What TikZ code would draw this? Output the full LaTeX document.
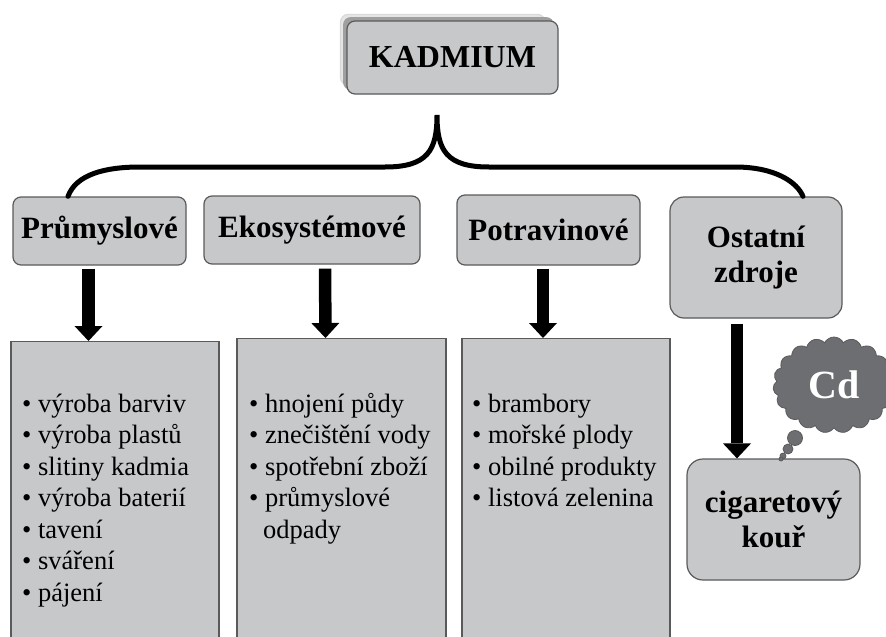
\documentclass[tikz,border=0pt]{standalone}
\usepackage{fontspec}
\setmainfont{Liberation Serif}
\usetikzlibrary{arrows.meta,positioning,shapes.symbols,shadows}
\definecolor{boxgray}{HTML}{C7C8CA}
\definecolor{edgegray}{HTML}{5A5A5A}
\definecolor{cloudgray}{HTML}{6D6E71}

\begin{document}
\begin{tikzpicture}[
  x=1pt, y=-1pt,
  headbox/.style={draw=edgegray, fill=boxgray, line width=1.2pt, rounded corners=8pt,
    inner sep=0pt, align=center, font=\fontsize{31}{35}\selectfont\bfseries},
  listbox/.style={draw=edgegray, fill=boxgray, line width=1.2pt, anchor=north,
    inner sep=0pt, minimum height=310pt},
  item/.style={anchor=base west, inner sep=0pt, font=\fontsize{26.5}{31.5}\selectfont},
  bigarrow/.style={line width=12.5pt, -{Triangle[width=28pt,length=15pt,line width=0pt]}},
  brace/.style={line width=5pt, line cap=round},
  bubble/.style={circle, draw=edgegray, fill=cloudgray, line width=0.8pt, inner sep=0pt}
]
\useasboundingbox (0,0) rectangle (886,637);
\clip (0,0) rectangle (886,637);

% top box with its stacked shadow
\node[headbox, font=\fontsize{32}{36}\selectfont\bfseries, minimum width=211pt, minimum height=73pt,
  general shadow={fill=gray!20, draw=gray!30, shadow xshift=-10pt, shadow yshift=8pt, shadow scale=0.97},
  general shadow={fill=gray!75, shadow xshift=-4pt, shadow yshift=4pt}]
  (kad) at (452.5,57.5) {KADMIUM};
\coordinate (peak) at (437,115);

\node[headbox, minimum width=173pt, minimum height=68pt] (prum) at (99.5,231) {Průmyslové};
\node[headbox, minimum width=216pt, minimum height=68pt] (eko) at (312,230) {Ekosystémové};
\node[headbox, minimum width=183pt, minimum height=70pt] (pot) at (548.5,230) {Potravinové};
\node[headbox, rounded corners=14pt, minimum width=172pt, minimum height=121pt] (ost) at (756,257.5) {Ostatní\\zdroje};

% the brace
\draw[brace] ([xshift=-31.5pt]prum.north) .. controls +(8,-22) and (105,167) .. (140,167)
  -- (385,167) .. controls (428,167) and (437,150) .. (peak)
  .. controls (437,150) and (446,167) .. (489,167)
  -- (735,167) .. controls (775,167) and (797,182) .. ([xshift=47pt]ost.north);

\node[listbox, minimum width=208pt] (l1) at (115,341) {};
\node[listbox, minimum width=209pt] (l2) at (341.5,338) {};
\node[listbox, minimum width=208pt] (l3) at (566,338) {};
\node[headbox, rounded corners=16pt, minimum width=173pt, minimum height=121pt] (cig) at (773.5,519.5) {cigaretový\\kouř};

\draw[bigarrow] ([xshift=-11pt,yshift=-3pt]prum.south) -- ([xshift=-26.5pt]l1.north);
\draw[bigarrow] ([xshift=13pt,yshift=-4pt]eko.south) -- ([xshift=-16pt]l2.north);
\draw[bigarrow] ([xshift=-5.5pt,yshift=-3pt]pot.south) -- ([xshift=-23pt]l3.north);
\draw[bigarrow] ([xshift=-19pt,yshift=-5pt]ost.south) -- ([xshift=-36.5pt]cig.north);

% lists
\foreach \txt [count=\i from 0] in {výroba barviv, výroba plastů, slitiny kadmia,
    výroba baterií, tavení, sváření, pájení}
  \node[item] (a\i) at (22,412+31.5*\i) {\textbullet\ \txt};
\foreach \txt [count=\i from 0] in {hnojení půdy, znečištění vody, spotřební zboží, průmyslové}
  \node[item] (b\i) at (249,412+31.5*\i) {\textbullet\ \txt};
\node[item] (b4) at (263,538) {odpady};
\foreach \txt [count=\i from 0] in {brambory, mořské plody, obilné produkty, listová zelenina}
  \node[item] (c\i) at (472,412+31.5*\i) {\textbullet\ \txt};

% thought cloud
\node[cloud, cloud puffs=19, cloud puff arc=125, draw=edgegray, fill=cloudgray, line width=0.8pt,
  minimum width=122pt, minimum height=96pt, inner sep=0pt, text=white,
  font=\fontsize{40}{44}\selectfont\bfseries] (cd) at (834,385) {Cd};
\node[bubble, minimum size=15pt] (bub1) at (795,438) {};
\node[bubble, minimum size=10pt] (bub2) at (788,449) {};
\node[bubble, minimum size=6pt] (bub3) at (783,456) {};
\node[bubble, minimum size=4pt] (bub4) at (781,459) {};
\end{tikzpicture}
\end{document}
